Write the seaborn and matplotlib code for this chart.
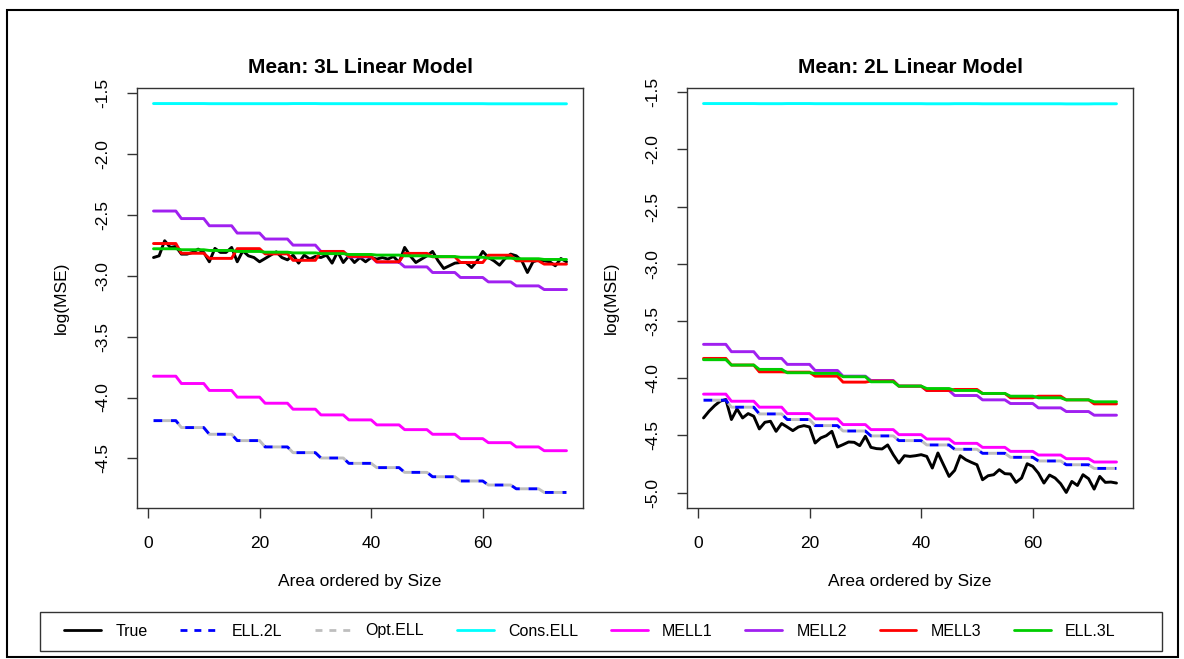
import numpy as np
import pandas as pd
import matplotlib.pyplot as plt
import seaborn as sns
from matplotlib.lines import Line2D
from matplotlib.patches import Rectangle
from matplotlib.ticker import MultipleLocator, FormatStrFormatter

# area index (75 areas, ordered by size)
area = np.arange(1, 76)

# ---- left panel: Mean: 3L Linear Model ----
# true values (one per area)
left_true = [-2.850, -2.836, -2.712, -2.767, -2.759, -2.822, -2.822, -2.808, -2.781, -2.808,
             -2.885, -2.775, -2.808, -2.808, -2.767, -2.885, -2.795, -2.836, -2.850, -2.885,
             -2.858, -2.830, -2.803, -2.850, -2.869, -2.830, -2.896, -2.830, -2.863, -2.841,
             -2.850, -2.830, -2.896, -2.803, -2.891, -2.836, -2.891, -2.850, -2.885, -2.850,
             -2.863, -2.850, -2.863, -2.841, -2.891, -2.767, -2.836, -2.891, -2.863, -2.836,
             -2.800, -2.877, -2.940, -2.918, -2.896, -2.891, -2.891, -2.932, -2.877, -2.800,
             -2.850, -2.877, -2.913, -2.858, -2.822, -2.836, -2.877, -2.973, -2.885, -2.869,
             -2.877, -2.885, -2.918, -2.858, -2.885]
# step levels: one value per group of 5 areas
left_ell2l = [-4.190, -4.247, -4.302, -4.354, -4.406, -4.453, -4.497, -4.541, -4.576, -4.615,
              -4.651, -4.686, -4.719, -4.750, -4.780]
left_optell = [-4.190, -4.247, -4.302, -4.354, -4.406, -4.453, -4.497, -4.541, -4.576, -4.615,
               -4.651, -4.686, -4.719, -4.750, -4.780]
left_cons = [-1.585, -1.585, -1.586, -1.586, -1.586, -1.585, -1.586, -1.586, -1.586, -1.586,
             -1.586, -1.586, -1.587, -1.587, -1.587]
left_mell1 = [-3.825, -3.885, -3.942, -3.997, -4.047, -4.096, -4.143, -4.184, -4.225, -4.264,
              -4.302, -4.338, -4.371, -4.406, -4.437]
left_mell2 = [-2.468, -2.530, -2.589, -2.649, -2.698, -2.748, -2.800, -2.845, -2.888, -2.927,
              -2.973, -3.014, -3.050, -3.083, -3.113]
left_mell3 = [-2.735, -2.815, -2.857, -2.777, -2.820, -2.873, -2.800, -2.841, -2.885, -2.816,
              -2.844, -2.891, -2.831, -2.877, -2.904]
left_ell3l = [-2.778, -2.786, -2.792, -2.800, -2.806, -2.812, -2.818, -2.825, -2.830, -2.836,
              -2.842, -2.848, -2.855, -2.860, -2.866]

# ---- right panel: Mean: 2L Linear Model ----
right_true = [-4.347, -4.288, -4.239, -4.200, -4.186, -4.361, -4.268, -4.347, -4.309, -4.332,
              -4.443, -4.385, -4.376, -4.464, -4.396, -4.426, -4.458, -4.426, -4.414, -4.426,
              -4.566, -4.522, -4.502, -4.464, -4.601, -4.580, -4.557, -4.560, -4.589, -4.507,
              -4.604, -4.615, -4.618, -4.583, -4.668, -4.741, -4.677, -4.683, -4.677, -4.668,
              -4.683, -4.785, -4.653, -4.756, -4.858, -4.805, -4.677, -4.712, -4.735, -4.756,
              -4.887, -4.852, -4.843, -4.799, -4.834, -4.837, -4.910, -4.872, -4.747, -4.770,
              -4.829, -4.916, -4.846, -4.872, -4.922, -4.998, -4.902, -4.937, -4.843, -4.878,
              -4.969, -4.858, -4.910, -4.907, -4.916]
right_ell2l = [-4.192, -4.253, -4.312, -4.361, -4.414, -4.461, -4.504, -4.545, -4.583, -4.621,
               -4.656, -4.691, -4.723, -4.756, -4.788]
right_optell = [-4.192, -4.253, -4.312, -4.361, -4.414, -4.461, -4.504, -4.545, -4.583, -4.621,
                -4.656, -4.691, -4.723, -4.756, -4.788]
right_cons = [-1.600, -1.600, -1.601, -1.600, -1.601, -1.601, -1.601, -1.601, -1.602, -1.601,
              -1.602, -1.602, -1.602, -1.603, -1.602]
right_mell1 = [-4.139, -4.201, -4.253, -4.309, -4.355, -4.405, -4.449, -4.493, -4.531, -4.569,
               -4.604, -4.639, -4.671, -4.703, -4.732]
right_mell2 = [-3.704, -3.768, -3.827, -3.879, -3.932, -3.982, -4.020, -4.069, -4.107, -4.151,
               -4.189, -4.221, -4.259, -4.291, -4.323]
right_mell3 = [-3.827, -3.885, -3.944, -3.947, -3.982, -4.034, -4.025, -4.069, -4.107, -4.098,
               -4.133, -4.171, -4.157, -4.189, -4.224]
right_ell3l = [-3.838, -3.885, -3.923, -3.952, -3.958, -3.987, -4.031, -4.069, -4.090, -4.107,
               -4.133, -4.157, -4.171, -4.189, -4.206]

titles = ['Mean: 3L Linear Model', 'Mean: 2L Linear Model']
names = ['True', 'ELL.2L', 'Opt.ELL', 'Cons.ELL', 'MELL1', 'MELL2', 'MELL3', 'ELL.3L']
colors = {'True': 'black', 'ELL.2L': '#0000FF', 'Opt.ELL': '#BEBEBE', 'Cons.ELL': '#00FFFF',
          'MELL1': '#FF00FF', 'MELL2': '#A020F0', 'MELL3': '#FF0000', 'ELL.3L': '#00CD00'}
styles = {'ELL.2L': (0, (3, 3)), 'Opt.ELL': (3, (3, 3))}

panels = [
    {'True': left_true, 'ELL.2L': left_ell2l, 'Opt.ELL': left_optell, 'Cons.ELL': left_cons,
     'MELL1': left_mell1, 'MELL2': left_mell2, 'MELL3': left_mell3, 'ELL.3L': left_ell3l},
    {'True': right_true, 'ELL.2L': right_ell2l, 'Opt.ELL': right_optell, 'Cons.ELL': right_cons,
     'MELL1': right_mell1, 'MELL2': right_mell2, 'MELL3': right_mell3, 'ELL.3L': right_ell3l},
]

sns.set_theme(style='ticks')
plt.rcParams['font.family'] = ['Liberation Sans', 'DejaVu Sans']
plt.rcParams['axes.unicode_minus'] = False
plt.rcParams['text.color'] = 'black'
plt.rcParams['axes.labelcolor'] = 'black'
plt.rcParams['xtick.color'] = 'black'
plt.rcParams['ytick.color'] = 'black'

fig = plt.figure(figsize=(11.84, 6.59), dpi=100)
W, H = 1184, 659
boxes = [(137, 88, 446, 420), (687, 88, 446, 420)]  # x, top, width, height in px

# grey drawn under blue so it shows in the dash gaps
draw_order = ['True', 'Opt.ELL', 'ELL.2L', 'Cons.ELL', 'MELL1', 'MELL2', 'MELL3', 'ELL.3L']

for (bx, by, bw, bh), title, data in zip(boxes, titles, panels):
    ax = fig.add_axes([bx / W, (H - by - bh) / H, bw / W, bh / H])
    for name in draw_order:
        vals = np.asarray(data[name])
        if len(vals) == 15:
            vals = np.repeat(vals, 5)  # each level covers 5 areas
        df = pd.DataFrame({'area': area, 'value': vals})
        sns.lineplot(data=df, x='area', y='value', ax=ax, color=colors[name],
                     linewidth=2.1, linestyle=styles.get(name, '-'))
    ax.margins(x=0.04, y=0.04)
    ax.set_title(title, fontweight='bold', fontsize=15, pad=11)
    ax.set_xlabel('Area ordered by Size', fontsize=12.5)
    ax.set_ylabel('log(MSE)', fontsize=12.5)
    ax.xaxis.set_label_coords(0.5, -0.158)
    ax.yaxis.set_label_coords(-0.152, 0.5)
    ax.set_xticks([0, 20, 40, 60])
    ax.yaxis.set_major_locator(MultipleLocator(0.5))
    ax.yaxis.set_major_formatter(FormatStrFormatter('%.1f'))
    ax.tick_params(axis='both', direction='out', length=7, width=1, color='#333333',
                   labelsize=12.5, pad=13)
    ax.tick_params(axis='y', pad=12)
    plt.setp(ax.get_yticklabels(), rotation=90, va='center')
    for sp in ax.spines.values():
        sp.set_visible(True)
        sp.set_color('#333333')
        sp.set_linewidth(1.0)

# bottom legend inside its own box
handles = [Line2D([], [], color=colors[n], linewidth=2.0) for n in names]
handles[1] = Line2D([], [], color=colors['ELL.2L'], linewidth=2.0, linestyle=(0, (2.5, 2.5)))
handles[2] = Line2D([], [], color=colors['Opt.ELL'], linewidth=2.0, linestyle=(0, (2.5, 2.5)))
fig.legend(handles, names, loc='center', ncol=8, mode='expand', frameon=False,
           bbox_to_anchor=(50 / W, (H - 650) / H, 1080 / W, 38 / H),
           fontsize=11.5, handlelength=2.3, handletextpad=0.9)
fig.patches.append(Rectangle((40 / W, (H - 651) / H), 1122 / W, 39 / H, transform=fig.transFigure,
                             fill=False, edgecolor='#333333', linewidth=1.0))
# outer frame round the whole figure
fig.patches.append(Rectangle((7 / W, 2 / H), 1171 / W, 647 / H, transform=fig.transFigure,
                             fill=False, edgecolor='black', linewidth=1.5))

fig.savefig('out.png', dpi=100)
